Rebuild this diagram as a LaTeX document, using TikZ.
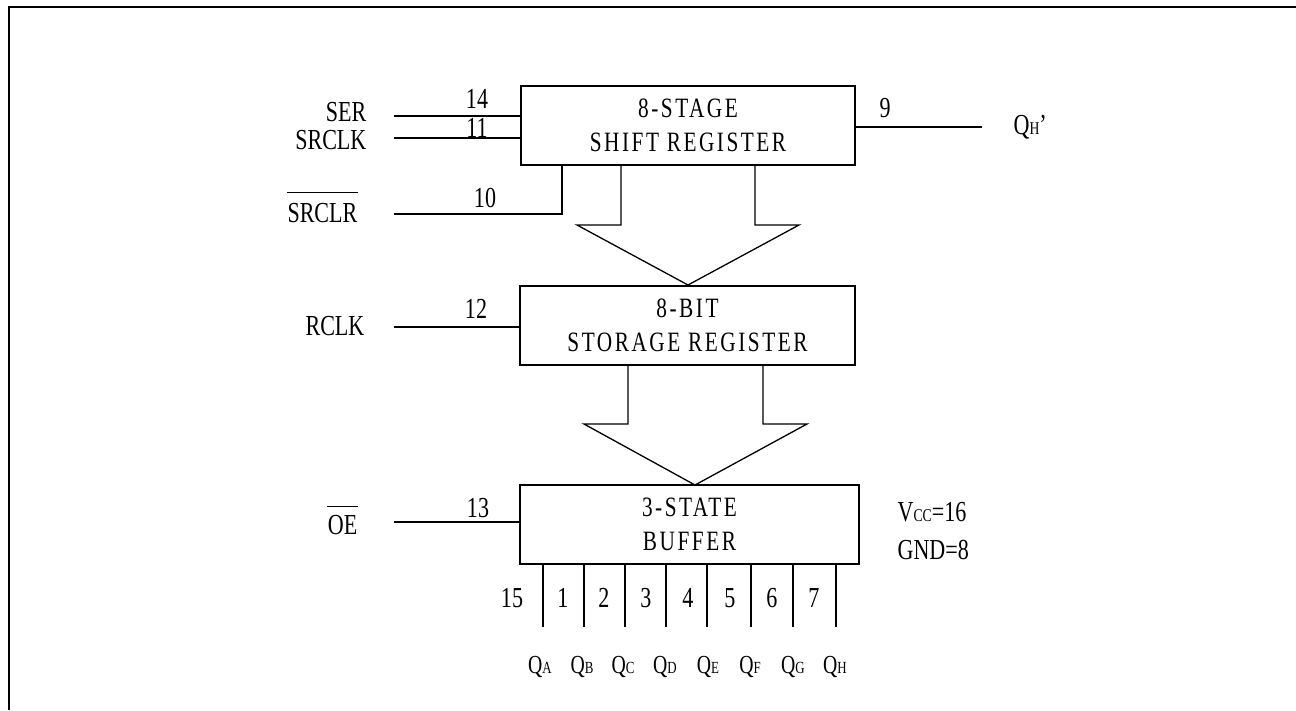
\documentclass[tikz,border=0pt]{standalone}
\usepackage{fontspec}
\setmainfont{Liberation Serif}[FakeStretch=0.76]
\usetikzlibrary{calc}
\newcommand{\qsub}[1]{Q{\fontsize{17}{17}\selectfont #1}}
\begin{document}
\begin{tikzpicture}[x=1pt,y=-1pt,line width=1.3pt,
  lbl/.style={inner sep=0pt,font=\fontsize{29}{30}\selectfont},
  qlbl/.style={inner sep=0pt,font=\fontsize{26}{26}\selectfont},
  blk/.style={draw,line width=1.5pt,inner sep=0pt,align=center,font=\fontsize{28}{34}\selectfont\addfontfeature{LetterSpace=9}}]
\useasboundingbox (0,0) rectangle (1296,710);
% frame
\draw[line width=2.2pt] (9,710) -- (9,6.7) -- (1296,6.7);
% blocks
\node[blk,minimum width=334pt,minimum height=79pt] (shift) at (688,125.5) {8-STAGE\\SHIFT REGISTER};
\node[blk,minimum width=335pt,minimum height=79pt] (stor) at (687.5,325.5) {8-BIT\\STORAGE REGISTER};
\node[blk,minimum width=339pt,minimum height=79pt] (buf) at (689.5,524.5) {3-STATE\\BUFFER};
% block arrows
\coordinate (a1l) at (621,225);
\coordinate (a1r) at (755,225);
\draw (a1l |- shift.south) -- (a1l) -- (577,225) -- (688,285) -- (799,225) -- (a1r) -- (a1r |- shift.south);
\coordinate (a2l) at (628,424);
\coordinate (a2r) at (763,424);
\draw (a2l |- stor.south) -- (a2l) -- (584,424) -- (695,485) -- (807,424) -- (a2r) -- (a2r |- stor.south);
% inputs
\node[lbl,anchor=east] (ser) at (367,112) {SER};
\node[lbl,anchor=east] (srclk) at (367,140) {SRCLK};
\node[lbl,anchor=east] (srclr) at (358,213) {SRCLR};
\draw ([yshift=10pt]srclr.north west) -- ([yshift=10pt]srclr.north east);
\node[lbl,anchor=east] (rclk) at (365,326) {RCLK};
\node[lbl,anchor=east] (oe) at (358,525) {OE};
\draw ([yshift=8pt]oe.north west) -- ([yshift=8pt]oe.north east);
\coordinate (serin) at (394,116);
\coordinate (srclkin) at (394,138);
\coordinate (srclrin) at (394,214);
\coordinate (srclrup) at (562,214);
\coordinate (rclkin) at (394,327);
\coordinate (oein) at (394,522);
\draw (serin) -- (serin -| shift.west);
\draw (srclkin) -- (srclkin -| shift.west);
\draw (srclrin) -- (srclrup) -- (srclrup |- shift.south);
\draw (rclkin) -- (rclkin -| stor.west);
\draw (oein) -- (oein -| buf.west);
\node[lbl] (n14) at (477,99) {14};
\node[lbl] (n11) at (477,127.5) {11};
\node[lbl] (n10) at (485,198) {10};
\node[lbl] (n12) at (476,309) {12};
\node[lbl] (n13) at (478,508) {13};
% serial output
\coordinate (qhout) at (982,127);
\draw (shift.east |- qhout) -- (qhout);
\node[lbl] (n9) at (885,108) {9};
\node[lbl,anchor=west] (qhp) at (1013,127) {Q{\fontsize{18}{18}\selectfont H}'};
% power
\node[lbl,anchor=west] (vcc) at (897,512) {V{\fontsize{18}{18}\selectfont CC}=16};
\node[lbl,anchor=west] (gnd) at (897,550) {GND=8};
% parallel outputs
\foreach \x/\i in {543/1,584/2,625/3,666/4,707/5,751/6,793/7,836/8}{
  \coordinate (p\i) at (\x,627);
  \draw (p\i) -- (p\i |- buf.south);
}
\foreach \x/\t/\i in {512/15/a,563/1/b,604/2/c,646/3/d,688/4/e,730/5/f,772/6/g,814/7/h}{
  \node[lbl] (pin\i) at (\x,598) {\t};
}
\foreach \x/\t/\i in {540/A/a,582/B/b,623/C/c,665/D/d,708/E/e,750/F/f,793/G/g,835/H/h}{
  \node[qlbl] (q\i) at (\x,667) {\qsub{\t}};
}
\end{tikzpicture}
\end{document}
